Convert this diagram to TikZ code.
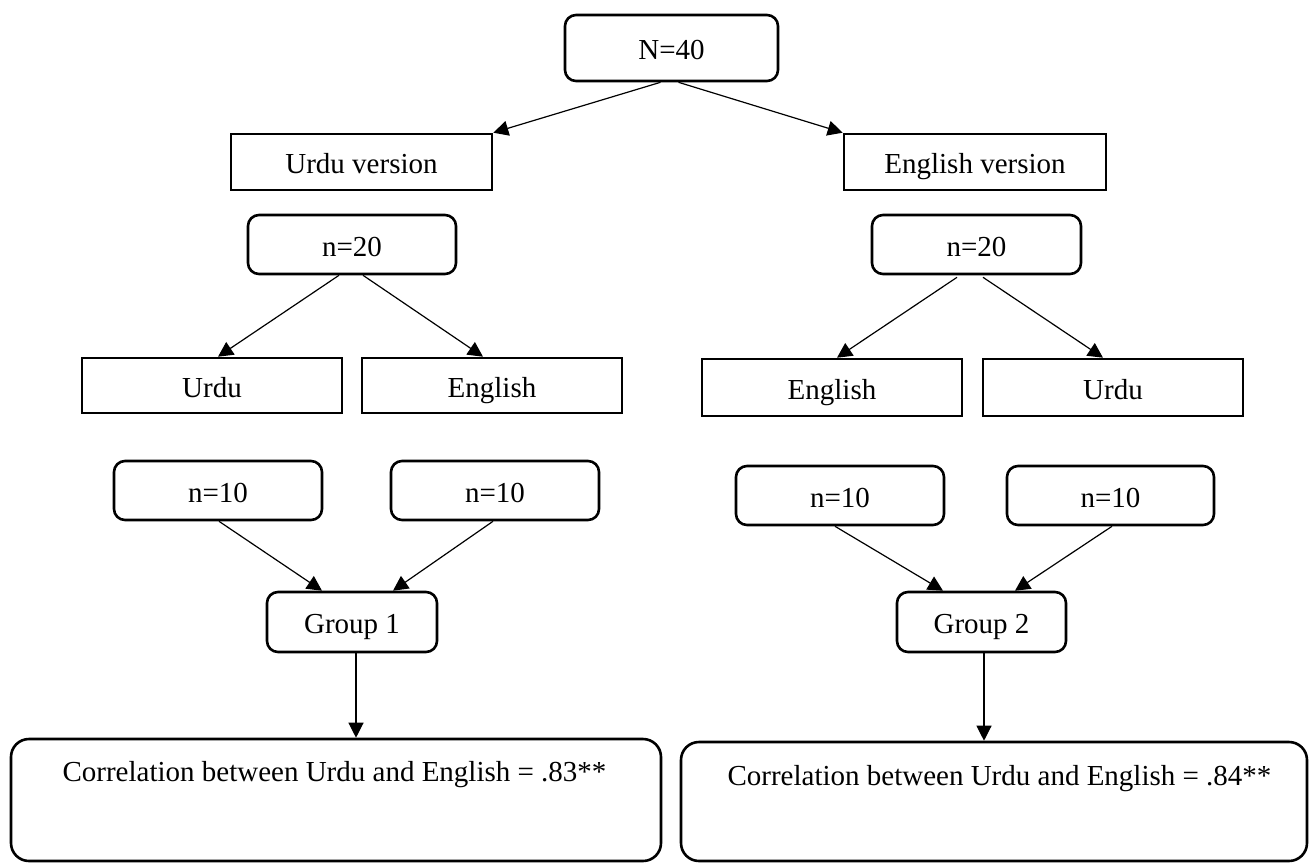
\documentclass[tikz,border=0pt]{standalone}
\usepackage{fontspec}
\setmainfont{Liberation Serif}
\usetikzlibrary{arrows.meta,calc}

\tikzset{
  box/.style={draw, line width=2.6pt, inner sep=0pt, align=center,
    text height=23pt, text depth=0pt,
    font=\fontsize{29}{34}\selectfont},
  rbox/.style={box, rounded corners=11pt},
  bigbox/.style={draw, line width=2.6pt, rounded corners=18pt, inner sep=0pt},
  label text/.style={inner sep=0pt, anchor=base, font=\fontsize{29}{34}\selectfont},
  link/.style={line width=1.2pt, -{Triangle[length=15pt,width=15pt]}}
}

\begin{document}
\begin{tikzpicture}[x=1pt,y=-1pt]
\useasboundingbox (0,0) rectangle (1309,863);

% top node and the two versions
\node[rbox, minimum width=213pt, minimum height=66pt] (N40) at (671.5,48) {N=40};
\node[box, minimum width=261pt, minimum height=56pt] (uv) at (361.5,162) {Urdu version};
\node[box, minimum width=262pt, minimum height=56pt] (ev) at (975,162) {English version};

% sample halves
\node[rbox, minimum width=208pt, minimum height=59pt] (n20a) at (352,244.5) {n=20};
\node[rbox, minimum width=209pt, minimum height=59pt] (n20b) at (976.5,244.5) {n=20};

% language order
\node[box, minimum width=260pt, minimum height=55pt] (ua) at (212,385.5) {Urdu};
\node[box, minimum width=260pt, minimum height=55pt] (ea) at (492,385.5) {English};
\node[box, minimum width=260pt, minimum height=57pt] (eb) at (832,387.5) {English};
\node[box, minimum width=260pt, minimum height=57pt] (ub) at (1113,387.5) {Urdu};

% subgroups
\node[rbox, minimum width=208pt, minimum height=59pt] (n10a) at (218,490.5) {n=10};
\node[rbox, minimum width=208pt, minimum height=59pt] (n10b) at (495,490.5) {n=10};
\node[rbox, minimum width=208pt, minimum height=59pt] (n10c) at (840,495.5) {n=10};
\node[rbox, minimum width=207pt, minimum height=59pt] (n10d) at (1110.5,495.5) {n=10};

% groups
\node[rbox, minimum width=170pt, minimum height=60pt] (g1) at (352,622) {Group 1};
\node[rbox, minimum width=169pt, minimum height=60pt] (g2) at (981.5,622) {Group 2};

% results
\node[bigbox, minimum width=650pt, minimum height=122pt] (c1) at (336,800) {};
\node[bigbox, minimum width=626pt, minimum height=119pt] (c2) at (994,801.5) {};
\node[label text] (t1) at ($(c1.north)+(-1.5,44)$) {Correlation between Urdu and English = .83**};
\node[label text] (t2) at ($(c2.north)+(5.5,45)$) {Correlation between Urdu and English = .84**};

% connectors
\draw[link] ($(N40.south)+(-11,0)$) -- (uv.north east);
\draw[link] ($(N40.south)+(7,0)$) -- (ev.north west);

\draw[link] ($(n20a.south)+(-13,0)$) -- ($(ua.north)+(6,0)$);
\draw[link] ($(n20a.south)+(11,0)$) -- ($(ea.north)+(-9,0)$);
\draw[link] ($(n20b.south)+(-19.5,2)$) -- ($(eb.north)+(5,0)$);
\draw[link] ($(n20b.south)+(6.5,2)$) -- ($(ub.north)+(-10,0)$);

\draw[link] ($(n10a.south)+(1,0)$) -- ($(g1.north)+(-30,0)$);
\draw[link] ($(n10b.south)+(-2,0)$) -- ($(g1.north)+(41,0)$);
\draw[link] ($(n10c.south)+(-5,0)$) -- ($(g2.north)+(-38.5,0)$);
\draw[link] ($(n10d.south)+(1.5,0)$) -- ($(g2.north)+(33.5,0)$);

\coordinate (g1o) at ($(g1.south)+(4,0)$);
\coordinate (g2o) at ($(g2.south)+(2.5,0)$);
\draw[link] (g1o) -- (g1o |- c1.north);
\draw[link] (g2o) -- (g2o |- c2.north);
\end{tikzpicture}
\end{document}
